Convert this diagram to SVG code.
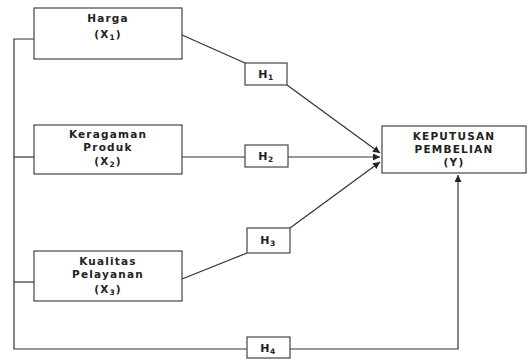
<svg xmlns="http://www.w3.org/2000/svg" width="528" height="360" viewBox="0 0 528 360">
<style>
.box{fill:#fff;stroke:#444;stroke-width:1.2}
.ln{fill:none;stroke:#333;stroke-width:1.2}
.t{font-family:"DejaVu Sans","Liberation Sans",sans-serif;font-weight:bold;font-size:10.5px;letter-spacing:1.2px;fill:#222;text-anchor:middle}
.h{font-size:11px;letter-spacing:0.5px}
.s{font-size:7.5px}
</style>
<defs>
<marker id="ah" viewBox="0 0 10 10" refX="10" refY="5" markerWidth="7" markerHeight="7" orient="auto" markerUnits="userSpaceOnUse">
<path d="M0,0 L10,5 L0,10 z" fill="#222"/>
</marker>
</defs>
<rect width="528" height="360" fill="#fff"/>
<g id="connectors">
<polyline class="ln" points="34,39 14,39 14,349 247,349"/>
<line class="ln" x1="14" y1="157" x2="34" y2="157"/>
<line class="ln" x1="14" y1="282" x2="34" y2="282"/>
<line class="ln" x1="182" y1="35" x2="245" y2="63"/>
<line class="ln" x1="287" y1="85" x2="380" y2="153" marker-end="url(#ah)"/>
<line class="ln" x1="182" y1="157" x2="245" y2="157"/>
<line class="ln" x1="288" y1="157" x2="380" y2="157" marker-end="url(#ah)"/>
<line class="ln" x1="182" y1="279" x2="247" y2="253"/>
<line class="ln" x1="290" y1="228" x2="380" y2="162" marker-end="url(#ah)"/>
<polyline class="ln" points="290,349 458,349 458,175" marker-end="url(#ah)"/>
</g>
<g id="harga">
<rect class="box" x="34" y="8" width="148" height="51"/>
<text class="t" x="108" y="22">Harga</text>
<text class="t" x="108" y="38">(X<tspan class="s" dy="2">1</tspan><tspan dy="-2">)</tspan></text>
</g>
<g id="keragaman">
<rect class="box" x="34" y="125" width="148" height="49"/>
<text class="t" x="108" y="138">Keragaman</text>
<text class="t" x="108" y="151">Produk</text>
<text class="t" x="108" y="165">(X<tspan class="s" dy="2">2</tspan><tspan dy="-2">)</tspan></text>
</g>
<g id="kualitas">
<rect class="box" x="34" y="251" width="148" height="50"/>
<text class="t" x="108" y="265">Kualitas</text>
<text class="t" x="108" y="278">Pelayanan</text>
<text class="t" x="108" y="293">(X<tspan class="s" dy="2">3</tspan><tspan dy="-2">)</tspan></text>
</g>
<g id="keputusan">
<rect class="box" x="382" y="126" width="144" height="47"/>
<text class="t" x="454" y="140">KEPUTUSAN</text>
<text class="t" x="454" y="153">PEMBELIAN</text>
<text class="t" x="454" y="166">(Y)</text>
</g>
<g id="h1">
<rect class="box" x="245" y="63" width="42" height="22"/>
<text class="t h" x="266" y="78">H<tspan class="s" dy="2">1</tspan></text>
</g>
<g id="h2">
<rect class="box" x="245" y="145" width="43" height="22"/>
<text class="t h" x="266" y="160">H<tspan class="s" dy="2">2</tspan></text>
</g>
<g id="h3">
<rect class="box" x="247" y="228" width="43" height="25"/>
<text class="t h" x="268" y="244">H<tspan class="s" dy="2">3</tspan></text>
</g>
<g id="h4">
<rect class="box" x="247" y="337" width="43" height="21"/>
<text class="t h" x="268" y="352">H<tspan class="s" dy="2">4</tspan></text>
</g>
</svg>
